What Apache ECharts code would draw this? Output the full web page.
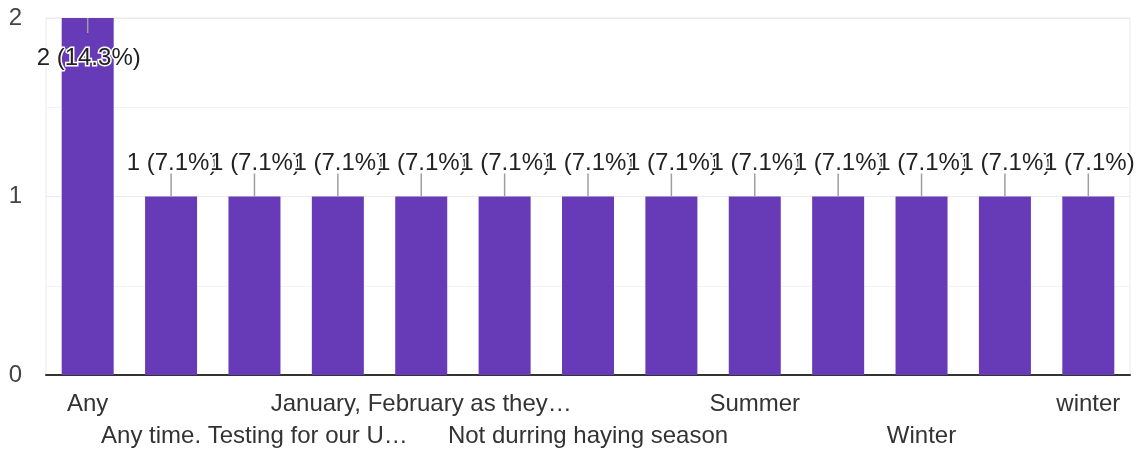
<!DOCTYPE html>
<html>
<head>
<meta charset="utf-8">
<style>
  html, body { margin: 0; padding: 0; background: #fff; }
  #chart { width: 1142px; height: 452px; }
</style>
<script src="https://cdn.jsdelivr.net/npm/echarts@6/dist/echarts.min.js"></script>
</head>
<body>
<div id="chart"></div>
<script>
// Answers to "When would you prefer testing?" and how many respondents chose each
const categories = [
  'Any',
  'Anytime',
  'Any time. Testing for our U…',
  'Fall',
  'January, February as they…',
  'Late fall',
  'Not durring haying season',
  'Spring',
  'Summer',
  'Summer or fall',
  'Winter',
  'Whenever',
  'winter'
];
const counts = [2, 1, 1, 1, 1, 1, 1, 1, 1, 1, 1, 1, 1];
const yTicks = [0, 1, 2];

const FONT = "'Liberation Sans', Arial, sans-serif";
const PURPLE = '#673ab7';
const total = counts.reduce((a, b) => a + b, 0);
const yMax = yTicks[yTicks.length - 1];

function annotationText(v) {
  return v + ' (' + (v / total * 100).toFixed(1) + '%)';
}

// every other category is labelled, alternating between two rows
function categoryLabel(val, idx) {
  if (idx % 2 === 1) return '';
  return idx % 4 === 0 ? val : '\n' + val;
}

const chart = echarts.init(document.getElementById('chart'), null, { renderer: 'canvas' });

chart.setOption({
  animation: false,
  backgroundColor: '#fff',
  grid: {
    left: 46, right: 12, top: 18, bottom: 76,
    show: true, borderColor: '#ebebeb', borderWidth: 1
  },
  xAxis: {
    type: 'category',
    data: categories,
    axisLine: { show: true, lineStyle: { color: '#333', width: 2 } },
    axisTick: { show: false },
    axisLabel: {
      interval: 0,
      hideOverlap: false,
      margin: 13,
      color: '#333',
      fontFamily: FONT,
      fontSize: 24,
      lineHeight: 32,
      formatter: categoryLabel
    },
    splitLine: { show: false }
  },
  yAxis: {
    type: 'value',
    min: yTicks[0],
    max: yMax,
    interval: 1,
    axisLine: { show: false },
    axisTick: { show: false },
    axisLabel: { color: '#444', fontFamily: FONT, fontSize: 24, margin: 24 },
    splitLine: { show: true, lineStyle: { color: '#ebebeb', width: 1 } },
    minorTick: { show: false, splitNumber: 2 },
    minorSplitLine: { show: true, lineStyle: { color: '#f3f3f3', width: 1 } }
  },
  series: [
    {
      type: 'bar',
      data: counts,
      barWidth: 52,
      itemStyle: { color: PURPLE },
      z: 2
    },
    {
      // value annotations with leader lines
      type: 'custom',
      z: 5,
      clip: false,
      data: counts.map((v, i) => [i, v]),
      renderItem: function (params, api) {
        const v = api.value(1);
        const p = api.coord([api.value(0), v]);
        const inside = v >= yMax;
        const lineEnd = inside ? p[1] + 15 : p[1] - 23;
        const textY = inside ? p[1] + 40 : p[1] - 33;
        return {
          type: 'group',
          children: [
            {
              type: 'line',
              shape: { x1: p[0], y1: p[1], x2: p[0], y2: lineEnd },
              style: { stroke: '#9e9e9e', lineWidth: 1.5 }
            },
            {
              type: 'text',
              style: {
                text: annotationText(v),
                x: p[0] + 1, y: textY,
                align: 'center', verticalAlign: 'middle',
                fontFamily: FONT, fontSize: 24,
                fill: '#222', stroke: '#fff', lineWidth: 3
              }
            }
          ]
        };
      }
    }
  ]
});
</script>
</body>
</html>
